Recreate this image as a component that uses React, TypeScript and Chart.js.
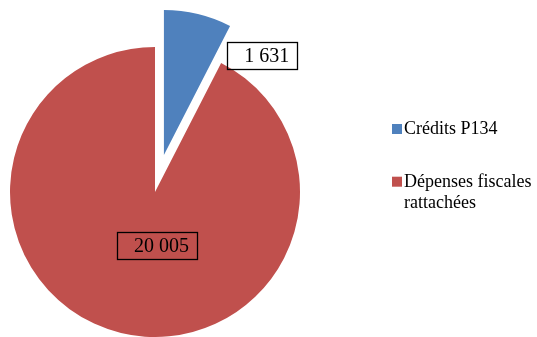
import React, { useEffect, useRef } from "react";
import { Chart, registerables } from "chart.js";

Chart.register(...registerables);

const categories: string[] = ["Crédits P134", "Dépenses fiscales rattachées"];
const values: number[] = [1631, 20005];
const colors: string[] = ["#4F81BD", "#C0504D"];

const FONT = "'Liberation Serif', 'DejaVu Serif', serif";

const fmt = (v: number) => String(v).replace(/\B(?=(\d{3})+(?!\d))/g, " ");

// style: explode distance per slice, label placement relative to slice bisector
const explode = [38, 0];
const labelDist = [176, 54];
const labelAngleShiftDeg = [25.8, -20.5];

const explodePlugin = {
  id: "explodeSlices",
  afterDatasetsUpdate(chart: any) {
    const meta = chart.getDatasetMeta(0);
    meta.data.forEach((arc: any, i: number) => {
      const d = explode[i] || 0;
      if (!d) return;
      const mid = (arc.startAngle + arc.endAngle) / 2;
      arc.x += Math.cos(mid) * d;
      arc.y += Math.sin(mid) * d;
    });
  },
};

const labelPlugin = {
  id: "boxLabels",
  afterDatasetsDraw(chart: any) {
    const ctx = chart.ctx as CanvasRenderingContext2D;
    const area = chart.chartArea;
    const cx = (area.left + area.right) / 2;
    const cy = (area.top + area.bottom) / 2;
    const meta = chart.getDatasetMeta(0);
    ctx.save();
    ctx.font = `20px ${FONT}`;
    ctx.textBaseline = "middle";
    ctx.textAlign = "left";
    meta.data.forEach((arc: any, i: number) => {
      const mid = (arc.startAngle + arc.endAngle) / 2 + (labelAngleShiftDeg[i] * Math.PI) / 180;
      const tx = cx + Math.cos(mid) * labelDist[i];
      const ty = cy + Math.sin(mid) * labelDist[i];
      const text = fmt(values[i]);
      const w = ctx.measureText(text).width;
      const left = tx - w / 2;
      ctx.strokeStyle = "#000";
      ctx.lineWidth = 1.3;
      ctx.strokeRect(Math.round(left - 17) + 0.5, Math.round(ty - 14) + 0.5, Math.round(w + 25), 27);
      ctx.fillStyle = "#000";
      ctx.fillText(text, left, ty + 1);
    });
    ctx.restore();
  },
};

const legendPlugin = {
  id: "sideLegend",
  afterDraw(chart: any) {
    const ctx = chart.ctx as CanvasRenderingContext2D;
    ctx.save();
    ctx.font = `18px ${FONT}`;
    ctx.textBaseline = "alphabetic";
    ctx.textAlign = "left";
    const x = 392;
    const maxW = 132;
    let baseline = 134;
    categories.forEach((cat, i) => {
      const words = cat.split(" ");
      const lines: string[] = [];
      let cur = "";
      words.forEach((wd) => {
        const test = cur ? cur + " " + wd : wd;
        if (ctx.measureText(test).width > maxW && cur) {
          lines.push(cur);
          cur = wd;
        } else cur = test;
      });
      if (cur) lines.push(cur);
      ctx.fillStyle = colors[i];
      ctx.fillRect(x, baseline - 10, 10, 10);
      ctx.fillStyle = "#000";
      lines.forEach((ln, j) => {
        ctx.fillText(ln, x + 12, baseline + j * 21.6);
      });
      baseline += 52.7;
    });
    ctx.restore();
  },
};

export default function App() {
  const ref = useRef<HTMLCanvasElement | null>(null);
  useEffect(() => {
    if (!ref.current) return;
    const chart = new Chart(ref.current, {
      type: "pie",
      data: {
        labels: categories,
        datasets: [
          {
            data: values,
            backgroundColor: colors,
            borderWidth: 0,
            radius: 145,
            clip: false,
          } as any,
        ],
      },
      options: {
        animation: false,
        responsive: false,
        devicePixelRatio: 1,
        events: [],
        layout: { padding: { left: 0, right: 227, top: 47, bottom: 0 } },
        plugins: {
          legend: { display: false },
          tooltip: { enabled: false },
        },
      },
      plugins: [explodePlugin, labelPlugin, legendPlugin],
    });
    return () => chart.destroy();
  }, []);
  return (
    <div style={{ position: "absolute", left: 0, top: 0, width: 537, height: 337, background: "#fff" }}>
      <canvas ref={ref} width={537} height={337} style={{ display: "block" }} />
    </div>
  );
}
